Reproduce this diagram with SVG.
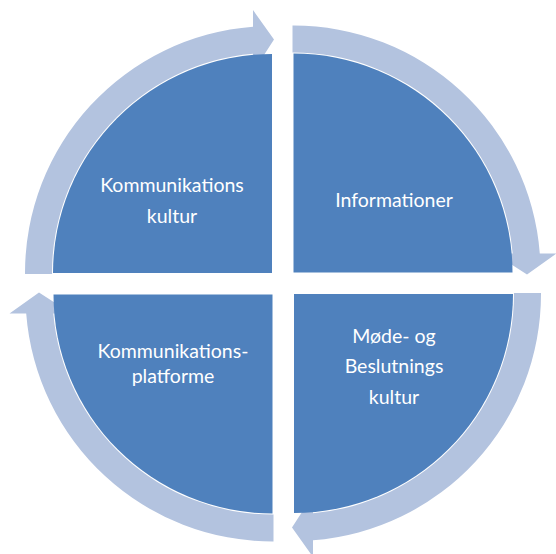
<svg xmlns="http://www.w3.org/2000/svg" width="556" height="554" viewBox="0 0 556 554">
  <style>
    .quad { fill: #4F81BD; }
    .arrow { fill: #B3C3DF; }
    .lbl { font-family: "Lato", "Liberation Sans", sans-serif; font-size: 19.5px; fill: #FFFFFF; text-anchor: middle; }
  </style>
  <defs>
    <path id="quadShape" d="M272,273 H53 A219,219 0 0 1 272,54 Z"/>
    <path id="arrowShape" d="M25,274 A247,247 0 0 1 253,26.7 L253,10 L274,39.5 L253,72 L253,53.8 A220,220 0 0 0 52,274 Z"/>
  </defs>
  <rect width="556" height="554" fill="#FFFFFF"/>
  <g id="connectors">
    <use href="#arrowShape" class="arrow"/>
    <use href="#arrowShape" class="arrow" transform="rotate(90 283 283.5)"/>
    <use href="#arrowShape" class="arrow" transform="rotate(180 283 283.5)"/>
    <use href="#arrowShape" class="arrow" transform="rotate(270 283 283.5)"/>
  </g>
  <g id="kommunikationskultur">
    <use href="#quadShape" class="quad"/>
    <text class="lbl" x="172" y="192">Kommunikations</text>
    <text class="lbl" x="172" y="223">kultur</text>
  </g>
  <g id="informationer">
    <use href="#quadShape" class="quad" transform="rotate(90 283 283.5)"/>
    <text class="lbl" x="394" y="207">Informationer</text>
  </g>
  <g id="moede-og-beslutningskultur">
    <use href="#quadShape" class="quad" transform="rotate(180 283 283.5)"/>
    <text class="lbl" x="394" y="343">Møde- og</text>
    <text class="lbl" x="394" y="373">Beslutnings</text>
    <text class="lbl" x="394" y="404">kultur</text>
  </g>
  <g id="kommunikationsplatforme">
    <use href="#quadShape" class="quad" transform="rotate(270 283 283.5)"/>
    <text class="lbl" x="173" y="358">Kommunikations-</text>
    <text class="lbl" x="173" y="383">platforme</text>
  </g>
</svg>
